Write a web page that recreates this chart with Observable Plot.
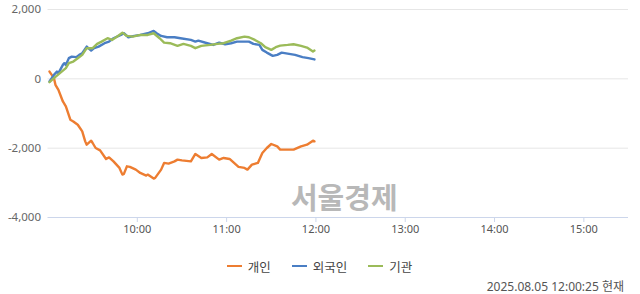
<!DOCTYPE html>
<html><head><meta charset="utf-8">
<script src="https://cdn.jsdelivr.net/npm/d3@7"></script>
<script src="https://cdn.jsdelivr.net/npm/@observablehq/plot@0.6"></script>
<style>
body{margin:0;background:#fff;font-family:"Noto Sans","Noto Sans CJK KR",sans-serif;}
#wrap{position:relative;width:640px;height:294px;overflow:hidden;}
#legend{position:absolute;top:257px;left:0;width:640px;height:18px;display:flex;justify-content:center;align-items:center;font-family:"Noto Sans CJK KR",sans-serif;font-size:12.5px;color:#444;}
#legend .it{display:flex;align-items:center;margin:0 11px 0 10px;}
#legend .sw{display:inline-block;width:15px;height:2.5px;margin-right:6px;}
#stamp{position:absolute;top:279px;right:16px;height:15px;line-height:15px;font-family:"Noto Sans","Noto Sans CJK KR",sans-serif;font-size:12px;color:#555;white-space:nowrap;}
</style></head>
<body><div id="wrap"><div id="chart"></div><div id="legend"></div><div id="stamp"></div></div>
<script>
// minutes after 09:00 and net buying values
const indivT = [1,4,5,7,10,12,15,17,20,23,25,26,29,30,32,35,39,41,44,48,50,51,53,55,59,62,66,67,71,72,76,78,81,85,87,90,96,99,103,107,110,115,118,122,125,128,132,134,137,141,144,147,150,154,156,165,170,174,178,179];
const indivV = [210,20,-173,-317,-653,-797,-1180,-1229,-1324,-1516,-1804,-1900,-1784,-1851,-1995,-2063,-2311,-2265,-2380,-2570,-2763,-2743,-2524,-2541,-2619,-2714,-2792,-2763,-2878,-2858,-2619,-2426,-2446,-2380,-2331,-2351,-2380,-2167,-2282,-2265,-2167,-2331,-2282,-2311,-2426,-2541,-2570,-2619,-2475,-2426,-2138,-1995,-1880,-1948,-2043,-2043,-1948,-1900,-1784,-1804];
const foreignT = [1,4,6,7,10,11,12,14,16,19,21,23,26,29,31,34,38,41,44,49,51,54,58,62,67,71,73,76,80,85,89,96,99,101,107,111,115,119,123,127,132,135,138,142,144,147,151,154,157,162,166,171,175,179];
const foreignV = [-78,115,210,164,403,452,403,596,642,625,691,740,930,815,884,930,1027,1074,1171,1266,1315,1200,1238,1266,1315,1381,1315,1238,1200,1200,1171,1122,1074,1103,1027,978,1045,998,1027,1074,1074,1074,1007,978,835,757,662,691,757,720,691,625,596,560];
const instT = [1,4,8,12,14,17,20,23,26,30,33,36,40,43,47,50,53,57,62,67,71,75,78,82,87,91,96,99,103,109,114,118,123,127,132,135,139,143,146,150,153,156,161,165,170,174,178,179];
const instV = [-95,20,164,308,452,498,596,691,884,884,1007,1074,1171,1122,1238,1333,1238,1217,1266,1266,1315,1171,1045,1027,950,1007,950,884,950,978,1007,1027,1103,1171,1217,1200,1122,1027,912,835,912,958,978,998,950,901,786,815];

const seriesNames = ["개인","외국인","기관"];
const seriesColors = ["#ED7D31","#4A7EC4","#9BBB59"];
const xTicks = [60,120,180,240,300,360];
const xTickLabels = ["10:00","11:00","12:00","13:00","14:00","15:00"];
const yTicks = [-4000,-2000,0,2000];
const yTickLabels = ["-4,000","-2,000","0","2,000"];
const watermark = "서울경제";
const stampText = "2025.08.05 12:00:25 현재";

const mk = (T,V,s) => T.map((t,i)=>({t, v:V[i], s}));
const rows = [...mk(indivT,indivV,seriesNames[0]), ...mk(foreignT,foreignV,seriesNames[1]), ...mk(instT,instV,seriesNames[2])];

const chart = Plot.plot({
  width: 640, height: 245,
  marginLeft: 47.5, marginRight: 12, marginTop: 9, marginBottom: 28,
  style: {fontFamily: '"Noto Sans","Noto Sans CJK KR",sans-serif', fontSize: "11px", background: "#fff"},
  x: {domain: [0, 390]},
  y: {domain: [-4000, 2000]},
  color: {domain: seriesNames, range: seriesColors},
  marks: [
    Plot.gridY([-2000, 0, 2000], {stroke: "#e6e6e6", strokeOpacity: 1}),
    Plot.ruleY([-4000], {stroke: "#ccd6eb"}),
    Plot.axisX({ticks: xTicks, tickFormat: (d,i) => xTickLabels[xTicks.indexOf(d)], tickSize: 5, tickPadding: 3, stroke: "#ccd6eb", fill: "#555", label: null}),
    Plot.axisY({ticks: yTicks, tickFormat: d => yTickLabels[yTicks.indexOf(d)], tickSize: 0, tickPadding: 7, fill: "#666", label: null, fontSize: 11.5}),
    Plot.text([watermark], {frameAnchor: "bottom", dx: 6, dy: -9, lineAnchor: "bottom", fontSize: 29, fontWeight: "bold", fill: "#b8b8b8", fontFamily: '"Noto Sans CJK KR",sans-serif'}),
    Plot.line(rows, {x: "t", y: "v", z: "s", stroke: "s", strokeWidth: 2.4, curve: "linear"})
  ]
});
document.getElementById("chart").appendChild(chart);

const lg = document.getElementById("legend");
seriesNames.forEach((n,i) => {
  const it = document.createElement("div"); it.className = "it";
  const sw = document.createElement("span"); sw.className = "sw"; sw.style.background = seriesColors[i];
  const tx = document.createElement("span"); tx.textContent = n;
  it.appendChild(sw); it.appendChild(tx); lg.appendChild(it);
});
document.getElementById("stamp").textContent = stampText;
</script></body></html>
